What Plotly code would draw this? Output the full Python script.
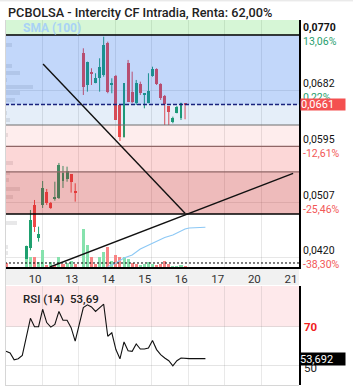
import plotly.graph_objects as go

W, H = 353, 390

# ---------------- data ----------------
title_text = "PCBOLSA - Intercity CF Intradia, Renta: 62,00%"
day_labels = ["10", "13", "14", "15", "16", "17", "20", "21"]

# hourly candles (slot index = trading hour)
slots = list(range(45))
opens = [0.0400, 0.0398, 0.0397, 0.0395, 0.0396, 0.0398, 0.04352, 0.05032, 0.04514, 0.05032,
         0.05236, 0.05063, 0.05121, 0.05141, 0.05408, 0.05440, 0.05518, 0.05240, None, 0.07413,
         0.06915, 0.07124, 0.06951, 0.07020, 0.07072, 0.07570, 0.06915, 0.07056, 0.06601, 0.06104,
         0.07256, 0.06810, 0.06628, 0.06931, 0.06758, 0.06628, 0.07056, 0.07162, 0.06931, 0.06743,
         0.06586, 0.06339, 0.06480, 0.06393, 0.06625]
highs = [0.0401, 0.0398, 0.0397, 0.0396, 0.0398, 0.04393, 0.04953, 0.05110, 0.04691, 0.05408,
         0.05283, 0.05079, 0.05397, 0.05691, 0.05644, 0.05633, 0.05518, 0.05372, None, 0.07491,
         0.07281, 0.07177, 0.07099, 0.07334, 0.07673, 0.07595, 0.07020, 0.07072, 0.06617, 0.06942,
         0.07308, 0.07124, 0.06994, 0.06967, 0.06785, 0.07099, 0.07202, 0.07177, 0.06942, 0.06758,
         0.06586, 0.06418, 0.06586, 0.06637, 0.06628]
lows = [0.0397, 0.0397, 0.0395, 0.0395, 0.0396, 0.0398, 0.04320, 0.04608, 0.04456, 0.04985,
        0.05032, 0.04970, 0.05099, 0.05126, 0.05299, 0.05397, 0.05225, 0.05084, None, 0.06758,
        0.06810, 0.06915, 0.06942, 0.06810, 0.07045, 0.06785, 0.06785, 0.06366, 0.06036, 0.06088,
        0.06653, 0.06628, 0.06601, 0.06758, 0.06549, 0.06628, 0.07045, 0.06915, 0.06680, 0.06287,
        0.06287, 0.06314, 0.06470, 0.06366, 0.06377]
closes = [0.0398, 0.0397, 0.0395, 0.0396, 0.0398, 0.04393, 0.04796, 0.04691, 0.04577, 0.05294,
          0.05063, 0.04985, 0.05162, 0.05659, 0.05534, 0.05565, 0.05397, 0.05220, None, 0.06889,
          0.07281, 0.07099, 0.07020, 0.07202, 0.07543, 0.06810, 0.06942, 0.06366, 0.06104, 0.06942,
          0.06653, 0.06653, 0.06951, 0.06785, 0.06785, 0.06821, 0.07162, 0.06931, 0.06706, 0.06617,
          0.06496, 0.06393, 0.06575, 0.06628, 0.06610]
volumes = [3.7, 0, 0, 0, 0, 8, 10.3, 10.3, 4.7, 17,
           2, 4.7, 2.5, 9.7, 2.7, 3.7, 6, 2.7, 0, 37.7,
           22, 10.3, 2.7, 9.7, 14.7, 19.7, 6, 12, 9.7, 9.7,
           8, 3.7, 2.7, 2, 2.7, 5.3, 2.7, 2, 3, 6,
           3, 1, 1, 1.3, 1]
volume_up = [0, 0, 0, 0, 0, 1, 1, 0, 1, 1,
             0, 1, 0, 1, 0, 1, 1, 0, 1, 1,
             1, 0, 0, 1, 1, 0, 1, 0, 0, 1,
             1, 0, 0, 1, 1, 1, 1, 0, 0, 0,
             0, 1, 1, 1, 0]
sma_slots = [25, 27, 29, 31, 33, 35, 37, 39, 41, 43, 44, 45, 49]
sma_values = [0.3, 4, 9, 12, 18, 22, 26, 29.5, 32, 36.5, 38, 39, 39.7]

rsi_slots = list(range(50))
rsi_values = [57.4, 56.6, 53.1, 53.6, 55.3, 64.3, 74.3, 70.0, 70.0, 78.9,
              72.1, 69.8, 71.2, 77.8, 73.3, 73.3, 69.5, 62.6, 71.2, 79.8,
              81.2, 80.1, 77.8, 79.5, 81.5, 65.1, 66.9, 58.3, 53.6, 62.2,
              57.7, 57.4, 61.2, 58.6, 58.6, 59.1, 62.9, 58.3, 55.7, 54.0,
              52.6, 50.0, 52.6, 54.0, 53.69, 53.69, 53.69, 53.69, 53.69, 53.69]

# volume-by-price profile (left edge)
profile_prices = [0.07543, 0.07213, 0.07108, 0.06994, 0.06889, 0.06790, 0.06680, 0.06476, 0.06366,
                  0.06130, 0.05691, 0.05534, 0.05424, 0.05283, 0.05157, 0.04749, 0.04372, 0.04278]
profile_sizes = [6.7, 6.7, 15, 2, 28, 15, 10, 2, 5, 3.3, 8, 5, 4, 15, 8, 12, 3, 3]

# price ticks and % relative to reference
tick_prices = [0.0770, 0.06825, 0.0595, 0.05075, 0.0420]
tick_price_text = ["0,0770", "0,0682", "0,0595", "0,0507", "0,0420"]
tick_pct_text = ["13,06%", "0,22%", "-12,61%", "-25,46%", "-38,30%"]
last_price = 0.0661
last_price_text = "0,0661"
rsi_last_text = "53,692"
rsi_header = "53,69"

# zone levels
zone_top = 0.0770
zone_levels = [0.0661, 0.06287, 0.0595, 0.0555, 0.0489]
dotted_level = 0.04121

# trend lines drawn on chart: (slot0, price0, slot1, price1)
trendlines = [(9.1, 0.07245, 44.0, 0.04902), (10.8, 0.04058, 70.55, 0.05529)]

# ---------------- layout helpers ----------------
def px(x):
    return x / W

def py(y):
    return 1 - y / H

X0, X1 = 5, 299
x_range = [-0.25, 72.0]
y_range = [0.04058, 0.07935]
day_span = 8.98
grid_x = [8.85 + day_span * i for i in range(7)]
label_x = [7.15 + day_span * i for i in range(8)]

UP, DOWN = "#1fa070", "#f04848"
VUP, VDOWN = "#86e2ad", "#f88484"

fig = go.Figure()

# volume bars
fig.add_trace(go.Bar(x=slots, y=volumes, width=0.75, yaxis="y2",
                     marker=dict(color=[VUP if u else VDOWN for u in volume_up], line_width=0),
                     hoverinfo="skip"))
fig.add_trace(go.Scatter(x=sma_slots, y=sma_values, yaxis="y2", mode="lines",
                         line=dict(color="#8cc8f5", width=1.1), hoverinfo="skip"))

# volume profile
fig.add_trace(go.Bar(x=profile_sizes, y=profile_prices, orientation="h", xaxis="x3", yaxis="y",
                     width=0.00062, marker=dict(color="rgba(110,110,120,0.16)", line_width=0),
                     hoverinfo="skip"))

# candles: wicks then bodies
for up in (True, False):
    wx, wy = [], []
    for k, o, h, l, c in zip(slots, opens, highs, lows, closes):
        if o is None:
            continue
        if (c >= o) == up:
            wx += [k, k, None]
            wy += [l, h, None]
    fig.add_trace(go.Scatter(x=wx, y=wy, mode="lines", line=dict(color=UP if up else DOWN, width=1),
                             hoverinfo="skip"))

bx, bbase, bh, bcol = [], [], [], []
for k, o, c in zip(slots, opens, closes):
    if o is None:
        continue
    lo = min(o, c)
    bx.append(k)
    bbase.append(lo)
    bh.append(max(abs(c - o), 0.00012))
    bcol.append(UP if c >= o else DOWN)
fig.add_trace(go.Bar(x=bx, y=bh, base=bbase, width=0.72, marker=dict(color=bcol, line_width=0),
                     hoverinfo="skip"))

# RSI
fig.add_trace(go.Scatter(x=rsi_slots, y=rsi_values, xaxis="x2", yaxis="y3", mode="lines",
                         line=dict(color="#111111", width=1.1), hoverinfo="skip"))

shapes = []
# label strip
shapes.append(dict(type="rect", xref="paper", yref="paper", x0=px(X0), x1=px(X1), y0=py(285), y1=py(267.5),
                   fillcolor="#f1f1f1", line_width=0, layer="below"))
# bands (semi-transparent, over candles)
bands = [
    (zone_top, y_range[1], "rgba(70,215,70,0.22)"),
    (zone_levels[0], zone_top, "rgba(20,100,235,0.26)"),
    (zone_levels[1], zone_levels[0], "rgba(20,100,200,0.11)"),
    (zone_levels[2], zone_levels[1], "rgba(240,60,60,0.09)"),
    (zone_levels[3], zone_levels[2], "rgba(240,40,40,0.19)"),
    (zone_levels[4], zone_levels[3], "rgba(200,30,30,0.30)"),
]
for y0, y1, col in bands:
    shapes.append(dict(type="rect", xref="paper", yref="y", x0=px(X0), x1=px(X1), y0=y0, y1=y1,
                       fillcolor=col, line_width=0, layer="above"))
# level lines
line_styles = [
    (zone_top, "#000000", 1.6, "solid"),
    (zone_levels[1], "#6f6f6f", 1.2, "solid"),
    (zone_levels[2], "#8f6666", 1.2, "solid"),
    (zone_levels[3], "#8f6666", 1.2, "solid"),
    (zone_levels[4], "#000000", 1.6, "solid"),
    (dotted_level, "#000000", 1.0, "2px,2px"),
    (last_price, "#1a237e", 1.5, "4px,2px"),
]
for yv, col, wd, dash in line_styles:
    shapes.append(dict(type="line", xref="paper", yref="y", x0=px(X0), x1=px(X1), y0=yv, y1=yv,
                       line=dict(color=col, width=wd, dash=dash), layer="above"))
for (a0, p0, a1, p1) in trendlines:
    shapes.append(dict(type="line", xref="x", yref="y", x0=a0, y0=p0, x1=a1, y1=p1,
                       line=dict(color="#111111", width=1.4), layer="above"))
# RSI overbought band
shapes.append(dict(type="rect", xref="paper", yref="y3", x0=px(X0), x1=px(X1), y0=70, y1=100,
                   fillcolor="rgba(250,40,60,0.10)", line_width=0, layer="below"))
# frame lines
shapes.append(dict(type="line", xref="paper", yref="paper", x0=px(5.5), x1=px(5.5), y0=py(385), y1=py(20),
                   line=dict(color="#d6d6d6", width=1)))
shapes.append(dict(type="line", xref="paper", yref="paper", x0=px(5), x1=px(299), y0=py(385.5), y1=py(385.5),
                   line=dict(color="#d6d6d6", width=1)))
shapes.append(dict(type="line", xref="paper", yref="paper", x0=0, x1=1, y0=py(0.8), y1=py(0.8),
                   line=dict(color="#e2e2e2", width=1)))

annotations = []
FONT = "Roboto"
annotations.append(dict(text=title_text, x=px(6), y=py(13), xref="paper", yref="paper",
                        xanchor="left", yanchor="middle", showarrow=False,
                        font=dict(family=FONT, size=12.7, color="#222222", weight=500)))
annotations.append(dict(text="SMA (100)", x=px(21), y=py(28), xref="paper", yref="paper",
                        xanchor="left", yanchor="middle", showarrow=False,
                        font=dict(family=FONT, size=12, color="#a9d2f5", weight="bold")))
for i, (p, t1, t2) in enumerate(zip(tick_prices, tick_price_text, tick_pct_text)):
    pct_col = "#1f9e6e" if not t2.startswith("-") else "#f25757"
    first = "<b>%s</b>" % t1 if i == 0 else t1
    annotations.append(dict(text="%s<br><span style='color:%s'>%s</span>" % (first, pct_col, t2),
                            x=px(300.5), y=p, xref="paper", yref="y",
                            xanchor="left", yanchor="middle", align="left", showarrow=False,
                            font=dict(family=FONT, size=10.5, color="#111111")))
annotations.append(dict(text=last_price_text, x=px(299.5), y=last_price, xref="paper", yref="y",
                        xanchor="left", yanchor="middle", showarrow=False, align="left",
                        width=44, height=11, borderpad=0, bgcolor="#f45050",
                        font=dict(family=FONT, size=11, color="#ffffff")))
annotations.append(dict(text="RSI (14)", x=px(20.5), y=py(299), xref="paper", yref="paper",
                        xanchor="left", yanchor="middle", showarrow=False,
                        font=dict(family=FONT, size=11.5, color="#222222", weight=500)))
annotations.append(dict(text=rsi_header, x=px(68), y=py(299), xref="paper", yref="paper",
                        xanchor="left", yanchor="middle", showarrow=False,
                        font=dict(family=FONT, size=11.5, color="#222222", weight=500)))
annotations.append(dict(text="70", x=px(301.5), y=70, xref="paper", yref="y3",
                        xanchor="left", yanchor="middle", showarrow=False,
                        font=dict(family=FONT, size=11.5, color="#f02020", weight="bold")))
annotations.append(dict(text="50", x=px(301.5), y=50, xref="paper", yref="y3", yshift=-2,
                        xanchor="left", yanchor="middle", showarrow=False,
                        font=dict(family=FONT, size=11.5, color="#222222")))
annotations.append(dict(text=rsi_last_text, x=px(298.5), y=53.69, xref="paper", yref="y3",
                        xanchor="left", yanchor="middle", showarrow=False, align="left",
                        width=45, height=12, borderpad=0, bgcolor="#000000",
                        font=dict(family=FONT, size=11, color="#ffffff")))

grid_col = "rgba(120,120,120,0.18)"
main_dom = [py(267), py(20)]
rsi_dom = [py(385), py(286)]

fig.update_layout(
    width=W, height=H, margin=dict(l=0, r=0, t=0, b=0),
    paper_bgcolor="white", plot_bgcolor="white",
    showlegend=False, barmode="overlay", bargap=0,
    shapes=shapes, annotations=annotations,
    xaxis=dict(domain=[px(X0), px(X1)], range=x_range, anchor="y",
               tickmode="array", tickvals=label_x, ticktext=day_labels,
               ticks="", showgrid=False, zeroline=False,
               tickfont=dict(family=FONT, size=11.5, color="#333333"),
               showline=True, linecolor="#000000", linewidth=1.6,
               minor=dict(tickmode="array", tickvals=grid_x, showgrid=True,
                          gridcolor=grid_col, gridwidth=1, ticks="")),
    yaxis=dict(domain=main_dom, range=y_range, side="right", anchor="x",
               tickmode="array", tickvals=tick_prices, showticklabels=False, ticks="",
               showgrid=True, gridcolor=grid_col, zeroline=False,
               showline=True, linecolor="#000000", linewidth=1.6),
    yaxis2=dict(overlaying="y", range=[0, 247], visible=False, anchor="x"),
    xaxis3=dict(overlaying="x", range=[0, 294], visible=False, anchor="y"),
    xaxis2=dict(domain=[px(X0), px(X1)], range=x_range, anchor="y3", matches="x",
                showticklabels=False, ticks="", showgrid=False, zeroline=False,
                minor=dict(tickmode="array", tickvals=grid_x, showgrid=True,
                           gridcolor="rgba(120,120,120,0.16)", gridwidth=1, ticks="")),
    yaxis3=dict(domain=rsi_dom, range=[40.2, 90.8], side="right", anchor="x2",
                tickmode="array", tickvals=[50, 70], showticklabels=False, ticks="",
                showgrid=True, gridcolor="rgba(120,120,120,0.2)", zeroline=False,
                showline=True, linecolor="#000000", linewidth=1.6),
)

fig.write_html("out.html")
